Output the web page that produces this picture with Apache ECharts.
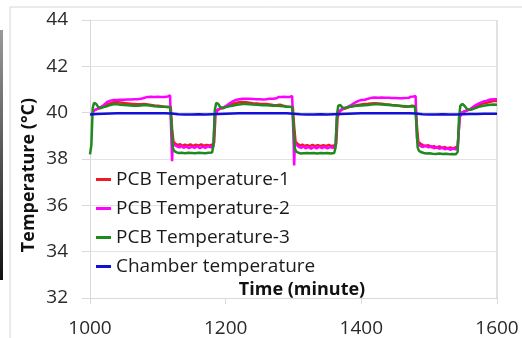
<!DOCTYPE html>
<html><head><meta charset="utf-8">
<script src="https://cdn.jsdelivr.net/npm/echarts@6/dist/echarts.min.js"></script>
<style>html,body{margin:0;padding:0;background:#fff}#c{width:522px;height:338px}</style>
</head><body><div id="c"></div>
<script>
var seriesNames = ['PCB Temperature-1','PCB Temperature-2','PCB Temperature-3','Chamber temperature'];
var xTicks = [1000,1200,1400,1600];
var yTicks = [32,34,36,38,40,42,44];

var pcb1 = [[1003,39.95],[1006,40.1],[1010,40.15],[1015,40.2],[1020,40.28],[1025,40.35],[1030,40.4],[1035,40.45],[1040,40.45],[1045,40.44],[1050,40.42],[1055,40.4],[1060,40.38],[1065,40.37],[1070,40.36],[1075,40.36],[1080,40.37],[1085,40.35],[1090,40.33],[1095,40.31],[1100,40.3],[1105,40.28],[1110,40.26],[1115,40.24],[1119,40.25],[1121,39.3],[1123,38.75],[1126,38.65],[1130,38.6],[1133,38.64],[1136,38.57],[1140,38.62],[1144,38.58],[1148,38.63],[1152,38.57],[1156,38.62],[1160,38.58],[1164,38.63],[1168,38.57],[1172,38.61],[1176,38.58],[1180,38.62],[1183,38.7],[1185,39.9],[1188,40.1],[1192,40.18],[1196,40.2],[1200,40.25],[1205,40.32],[1210,40.38],[1215,40.42],[1220,40.45],[1225,40.46],[1230,40.45],[1235,40.43],[1240,40.41],[1245,40.4],[1250,40.38],[1255,40.37],[1260,40.37],[1265,40.35],[1270,40.33],[1275,40.32],[1280,40.34],[1285,40.3],[1290,40.27],[1295,40.25],[1299,40.24],[1301,39.4],[1303,38.75],[1306,38.65],[1310,38.58],[1313,38.62],[1316,38.56],[1320,38.6],[1324,38.55],[1328,38.61],[1332,38.56],[1336,38.6],[1340,38.55],[1344,38.6],[1348,38.56],[1352,38.61],[1356,38.56],[1360,38.58],[1363,38.65],[1365,39.8],[1368,40.05],[1372,40.15],[1376,40.18],[1380,40.22],[1385,40.27],[1390,40.3],[1395,40.33],[1400,40.35],[1405,40.37],[1410,40.38],[1415,40.4],[1420,40.41],[1425,40.4],[1430,40.38],[1435,40.36],[1440,40.35],[1445,40.33],[1450,40.32],[1455,40.3],[1460,40.28],[1465,40.26],[1470,40.27],[1475,40.3],[1480,40.28],[1482,39.4],[1484,38.75],[1487,38.66],[1491,38.6],[1495,38.55],[1499,38.6],[1503,38.5],[1507,38.56],[1511,38.48],[1515,38.55],[1519,38.47],[1523,38.52],[1527,38.45],[1531,38.5],[1535,38.46],[1539,38.5],[1542,38.55],[1545,39.8],[1548,40.0],[1552,40.05],[1556,40.1],[1560,40.12],[1565,40.2],[1570,40.28],[1575,40.35],[1580,40.4],[1585,40.43],[1590,40.47],[1595,40.5],[1600,40.5]];

var pcb2 = [[1003,39.95],[1006,40.1],[1010,40.15],[1015,40.22],[1020,40.32],[1025,40.45],[1030,40.52],[1035,40.55],[1040,40.55],[1045,40.56],[1050,40.56],[1055,40.57],[1060,40.57],[1065,40.58],[1070,40.58],[1075,40.6],[1078,40.62],[1080,40.68],[1085,40.68],[1090,40.69],[1095,40.68],[1100,40.69],[1105,40.68],[1110,40.68],[1115,40.7],[1118,40.75],[1120,38.9],[1121,37.9],[1122,38.7],[1125,38.6],[1128,38.55],[1132,38.5],[1135,38.56],[1138,38.48],[1142,38.54],[1146,38.47],[1150,38.53],[1154,38.48],[1158,38.55],[1162,38.47],[1166,38.53],[1170,38.48],[1174,38.55],[1178,38.5],[1182,38.55],[1184,39.9],[1187,40.1],[1191,40.18],[1195,40.2],[1200,40.28],[1205,40.38],[1210,40.48],[1215,40.55],[1220,40.58],[1225,40.6],[1230,40.6],[1235,40.6],[1240,40.59],[1245,40.58],[1250,40.58],[1255,40.57],[1260,40.58],[1265,40.6],[1270,40.6],[1275,40.62],[1278,40.68],[1282,40.68],[1286,40.69],[1290,40.68],[1295,40.68],[1298,40.72],[1300,38.9],[1301,37.72],[1302,38.7],[1305,38.6],[1308,38.52],[1312,38.48],[1315,38.55],[1318,38.46],[1322,38.52],[1326,38.45],[1330,38.52],[1334,38.46],[1338,38.53],[1342,38.47],[1346,38.52],[1350,38.46],[1354,38.52],[1358,38.48],[1362,38.55],[1364,39.8],[1367,40.05],[1371,40.15],[1375,40.18],[1380,40.25],[1385,40.33],[1390,40.42],[1395,40.5],[1400,40.55],[1405,40.56],[1410,40.6],[1415,40.64],[1420,40.65],[1425,40.64],[1430,40.65],[1435,40.64],[1440,40.64],[1445,40.63],[1450,40.63],[1455,40.62],[1460,40.62],[1465,40.63],[1470,40.64],[1473,40.69],[1477,40.7],[1480,40.72],[1482,38.9],[1484,38.62],[1487,38.56],[1491,38.52],[1495,38.58],[1499,38.5],[1503,38.56],[1507,38.46],[1511,38.52],[1515,38.44],[1519,38.5],[1523,38.42],[1527,38.48],[1531,38.4],[1535,38.45],[1539,38.42],[1542,38.46],[1545,39.8],[1548,40.0],[1552,40.05],[1556,40.1],[1560,40.15],[1565,40.25],[1570,40.35],[1575,40.42],[1580,40.48],[1585,40.52],[1590,40.57],[1595,40.58],[1600,40.58]];

var pcb3 = [[1000,38.2],[1002,38.6],[1004,40.2],[1006,40.42],[1009,40.38],[1012,40.25],[1016,40.2],[1020,40.24],[1025,40.28],[1030,40.33],[1035,40.36],[1040,40.36],[1045,40.34],[1050,40.33],[1055,40.32],[1060,40.31],[1065,40.3],[1070,40.3],[1075,40.31],[1080,40.33],[1085,40.32],[1090,40.3],[1095,40.28],[1100,40.27],[1105,40.26],[1110,40.25],[1115,40.24],[1118,40.24],[1120,39.6],[1122,38.5],[1124,38.35],[1127,38.3],[1130,38.26],[1135,38.27],[1140,38.25],[1145,38.27],[1150,38.26],[1155,38.25],[1160,38.27],[1165,38.26],[1170,38.25],[1175,38.27],[1180,38.28],[1182,38.6],[1184,40.1],[1186,40.42],[1189,40.38],[1192,40.24],[1196,40.2],[1200,40.24],[1205,40.28],[1210,40.3],[1215,40.33],[1220,40.35],[1225,40.37],[1230,40.37],[1235,40.36],[1240,40.35],[1245,40.34],[1250,40.33],[1255,40.32],[1260,40.32],[1265,40.31],[1270,40.3],[1275,40.3],[1280,40.29],[1285,40.28],[1290,40.26],[1295,40.25],[1298,40.24],[1300,39.5],[1302,38.45],[1304,38.32],[1307,38.28],[1310,38.24],[1315,38.25],[1320,38.26],[1325,38.25],[1330,38.26],[1335,38.24],[1340,38.26],[1345,38.25],[1350,38.26],[1355,38.24],[1360,38.26],[1362,38.5],[1364,39.9],[1366,40.3],[1369,40.33],[1372,40.22],[1376,40.2],[1380,40.24],[1385,40.27],[1390,40.29],[1395,40.3],[1400,40.31],[1405,40.32],[1410,40.33],[1415,40.35],[1420,40.36],[1425,40.36],[1430,40.35],[1435,40.34],[1440,40.33],[1445,40.32],[1450,40.31],[1455,40.3],[1460,40.29],[1465,40.28],[1470,40.27],[1475,40.28],[1479,40.27],[1481,39.6],[1483,38.5],[1485,38.35],[1488,38.3],[1492,38.26],[1496,38.24],[1500,38.25],[1505,38.23],[1510,38.22],[1515,38.24],[1520,38.22],[1525,38.23],[1530,38.21],[1535,38.22],[1539,38.2],[1542,38.3],[1544,39.8],[1546,40.3],[1549,40.38],[1552,40.3],[1556,40.15],[1560,40.12],[1565,40.16],[1570,40.22],[1575,40.27],[1580,40.3],[1585,40.32],[1590,40.34],[1595,40.35],[1600,40.34]];

var chamber = [[1000,39.92],[1010,39.94],[1020,39.95],[1030,39.96],[1040,39.97],[1050,39.97],[1060,39.98],[1070,39.97],[1080,39.98],[1090,39.97],[1100,39.98],[1110,39.98],[1120,39.96],[1130,39.93],[1140,39.92],[1150,39.92],[1160,39.93],[1170,39.92],[1180,39.93],[1190,39.94],[1200,39.95],[1210,39.96],[1220,39.97],[1230,39.97],[1240,39.98],[1250,39.97],[1260,39.97],[1270,39.97],[1280,39.98],[1290,39.97],[1300,39.95],[1310,39.93],[1320,39.92],[1330,39.92],[1340,39.93],[1350,39.92],[1360,39.93],[1370,39.94],[1380,39.95],[1390,39.96],[1400,39.97],[1410,39.97],[1420,39.98],[1430,39.98],[1440,39.97],[1450,39.97],[1460,39.98],[1470,39.97],[1480,39.96],[1490,39.93],[1500,39.92],[1510,39.92],[1520,39.93],[1530,39.92],[1540,39.92],[1550,39.93],[1560,39.94],[1570,39.94],[1580,39.95],[1590,39.95],[1600,39.95]];

var colors = ['#ee1c25','#ff00ff','#1f8a1f','#1010d8'];
var dataSets = [pcb1, pcb2, pcb3, chamber];

var chart = echarts.init(document.getElementById('c'), null, {renderer:'canvas'});
var axisGrey = '#d9d9d9';
var font = 'Open Sans';
chart.setOption({
  animation: false,
  backgroundColor: '#ffffff',
  color: colors,
  grid: {left: 90, right: 25, top: 20, bottom: 40},
  xAxis: {
    type: 'value', min: xTicks[0], max: xTicks[xTicks.length-1], interval: 200,
    axisLine: {show: true, lineStyle: {color: axisGrey, width: 1}},
    axisTick: {show: true, length: 6, lineStyle: {color: axisGrey}},
    splitLine: {show: false},
    axisLabel: {margin: 21, color: '#2a2a2a', fontSize: 19, fontFamily: font, formatter: function(v){ return String(v); }}
  },
  yAxis: {
    type: 'value', min: yTicks[0], max: yTicks[yTicks.length-1], interval: 2,
    axisLine: {show: true, lineStyle: {color: axisGrey, width: 1}},
    axisTick: {show: true, length: 8, lineStyle: {color: axisGrey}},
    splitLine: {show: true, lineStyle: {color: '#e3e3e3', width: 1}},
    axisLabel: {margin: 22, color: '#2a2a2a', fontSize: 19, fontFamily: font}
  },
  legend: {
    show: true, orient: 'vertical', left: 91, top: 165,
    itemWidth: 15, itemHeight: 3, itemGap: 10, icon: 'rect',
    textStyle: {fontSize: 19, fontFamily: font, color: '#1a1a1a'},
    data: seriesNames
  },
  graphic: [
    {type: 'rect', shape: {x: 10, y: 7, width: 600, height: 400}, style: {fill: 'none', stroke: '#d6d6d6', lineWidth: 1}, silent: true, z: -1},
    {type: 'rect', shape: {x: 0, y: 30, width: 3, height: 250}, style: {fill: new echarts.graphic.LinearGradient(0,0,0,1,[{offset:0,color:'#9a9a9a'},{offset:0.5,color:'#555'},{offset:1,color:'#111'}])}, silent: true},
    {type: 'rect', shape: {x: 497, y: 20, width: 0, height: 278}, style: {stroke: axisGrey, lineWidth: 1}, silent: true},
    {type: 'text', x: 302, y: 290, style: {text: 'Time (minute)', font: 'bold 18px "Open Sans"', fill: '#111', align: 'center', verticalAlign: 'middle'}, silent: true},
    {type: 'text', x: 29, y: 175, rotation: Math.PI/2, style: {text: 'Temperature (°C)', font: 'bold 18px "Open Sans"', fill: '#111', align: 'center', verticalAlign: 'middle'}, silent: true}
  ],
  series: seriesNames.map(function(n, i){
    return {name: n, type: 'line', data: dataSets[i], showSymbol: false, symbol: 'none',
      lineStyle: {width: 2.5, color: colors[i]}, itemStyle: {color: colors[i]}};
  })
});
</script></body></html>
